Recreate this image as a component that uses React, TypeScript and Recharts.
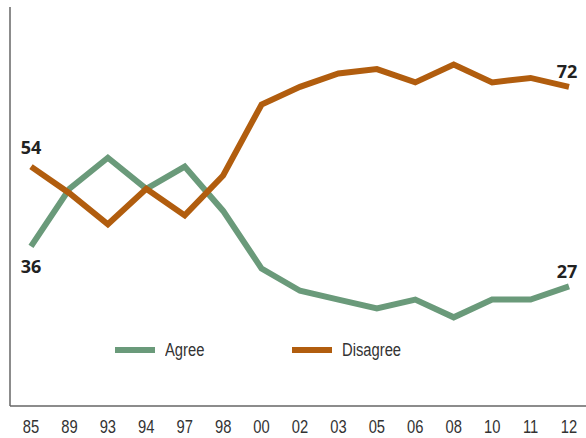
import { LineChart, Line, XAxis, YAxis, LabelList } from "recharts";

const YEARS = ["85", "89", "93", "94", "97", "98", "00", "02", "03", "05", "06", "08", "10", "11", "12"];
const AGREE = [36, 49, 56, 49, 54, 44, 31, 26, 24, 22, 24, 20, 24, 24, 27];
const DISAGREE = [54, 48, 41, 49, 43, 52, 68, 72, 75, 76, 73, 77, 73, 74, 72];
const SERIES = [
  { key: "agree", name: "Agree", color: "#6a9a7a" },
  { key: "disagree", name: "Disagree", color: "#b15d0e" },
];

const FONT = "'Liberation Sans', Arial, sans-serif";
const NARROW = 0.82; // squeeze Arial into something close to a condensed face

const data = YEARS.map((year, i) => ({ year, agree: AGREE[i], disagree: DISAGREE[i] }));

// only the first and last point of each series get a number
function endLabel(firstDy: number, lastDy: number) {
  return (props: any) => {
    const { x, y, value, index } = props;
    if (index !== 0 && index !== YEARS.length - 1) return null;
    const dy = index === 0 ? firstDy : lastDy;
    const dx = index === 0 ? 0 : -2;
    return (
      <text
        x={x + dx}
        y={y + dy}
        textAnchor="middle"
        dominantBaseline="central"
        fontFamily="'Open Sans', sans-serif"
        fontWeight={700}
        fontSize={18}
        fill="#222"
      >
        {value}
      </text>
    );
  };
}

function YearTick({ x, y, payload }: any) {
  return (
    <text
      transform={`translate(${x},${y}) scale(${NARROW},1)`}
      textAnchor="middle"
      dy="0.71em"
      fontFamily={FONT}
      fontSize={18}
      fill="#333"
    >
      {payload.value}
    </text>
  );
}

function ChartLegend() {
  return (
    <div
      style={{
        position: "absolute",
        top: 338,
        left: 115,
        display: "flex",
        fontFamily: FONT,
        fontSize: 18,
        color: "#333",
        lineHeight: "24px",
      }}
    >
      {SERIES.map((s) => (
        <div key={s.key} style={{ display: "flex", alignItems: "center", width: 177 }}>
          <span style={{ display: "inline-block", width: 40, height: 6, background: s.color, marginRight: 10 }} />
          <span style={{ display: "inline-block", transform: `scaleX(${NARROW})`, transformOrigin: "left center" }}>
            {s.name}
          </span>
        </div>
      ))}
    </div>
  );
}

export default function App() {
  return (
    <div style={{ position: "absolute", left: 0, top: 0, width: 586, height: 438, background: "#fff" }}>
      <LineChart width={586} height={438} data={data} margin={{ top: 7, right: 0, left: 9, bottom: 0 }}>
        <XAxis
          dataKey="year"
          height={32}
          padding={{ left: 21, right: 17 }}
          tickLine={false}
          tickMargin={8}
          axisLine={{ stroke: "#666", strokeWidth: 1.5 }}
          tick={<YearTick />}
          interval={0}
        />
        <YAxis
          width={1}
          domain={[0, 90]}
          tick={false}
          tickLine={false}
          axisLine={{ stroke: "#666", strokeWidth: 1.5 }}
        />
        <Line
          dataKey="agree"
          name="Agree"
          stroke={SERIES[0].color}
          strokeWidth={6}
          dot={false}
          isAnimationActive={false}
          strokeLinejoin="miter"
        >
          <LabelList dataKey="agree" content={endLabel(20, -15)} />
        </Line>
        <Line
          dataKey="disagree"
          name="Disagree"
          stroke={SERIES[1].color}
          strokeWidth={6}
          dot={false}
          isAnimationActive={false}
          strokeLinejoin="miter"
        >
          <LabelList dataKey="disagree" content={endLabel(-20, -16)} />
        </Line>
      </LineChart>
      <ChartLegend />
    </div>
  );
}
